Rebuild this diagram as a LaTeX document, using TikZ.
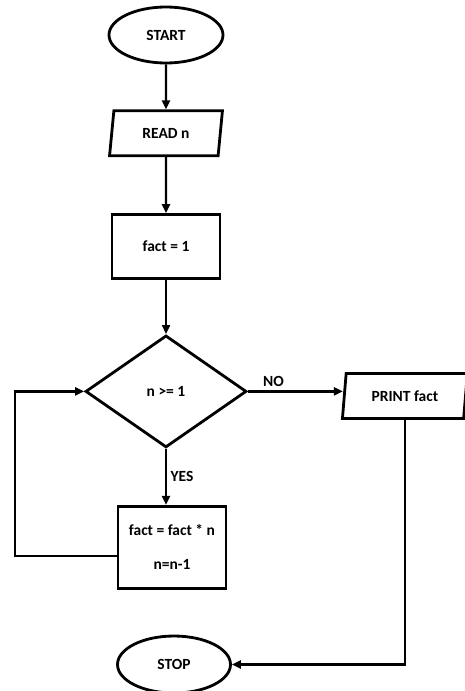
\documentclass[tikz,border=0pt]{standalone}
\usepackage{fontspec}
\setmainfont{Carlito}
\usetikzlibrary{positioning,arrows.meta,shapes.geometric}

\begin{document}
\begin{tikzpicture}[x=1pt,y=-1pt,>={Triangle[length=9pt,width=8pt]},
  every node/.style={font=\bfseries\fontsize{15.5}{18}\selectfont},
  term/.style={draw,ellipse,line width=2.8pt,minimum width=114pt,minimum height=56pt,inner sep=0},
  io/.style={draw,trapezium,trapezium left angle=79,trapezium right angle=101,trapezium stretches=true,line width=2.8pt,minimum height=45pt,inner sep=0},
  proc/.style={draw,rectangle,line width=2.8pt,inner sep=0},
  test/.style={draw,diamond,line width=2.8pt,minimum width=161pt,minimum height=112pt,inner sep=0},
  flow/.style={->,line width=2.4pt}]
\useasboundingbox (0,0) rectangle (465,691);
\node[term] (start) at (166,35) {START};
\node[io,minimum width=113pt] (read) [below=45pt of start] {READ n};
\node[proc,minimum width=108pt,minimum height=64pt] (init) [below=56pt of read] {fact = 1};
\node[test] (dec) [below=54pt of init] {n >= 1};
\node[proc,minimum width=108pt,minimum height=82pt,align=center] (body) [below=56pt of dec,xshift=6pt] {fact = fact * n\\[16pt]n=n-1};
\node[term,minimum width=113pt,minimum height=57pt] (stop) [below=45pt of body,xshift=2pt] {STOP};
\node[io,minimum width=125pt] (prt) [right=95pt of dec,yshift=-4.5pt] {PRINT fact};
\coordinate (loop) at (15,0);
\draw[flow] (start) -- (read);
\draw[flow] (read) -- (init);
\draw[flow] (init) -- (dec);
\draw[flow] (dec.east) -- (dec.east -| prt.west) node[pos=0.27,above]{NO};
\draw[flow] (dec.south) -- (dec.south |- body.north) node[midway,right]{YES};
\draw[flow] ([yshift=-9pt]body.west) -- ([yshift=-9pt]body.west -| loop) |- (dec.west);
\draw[flow] (prt.south) |- (stop.east);
\end{tikzpicture}
\end{document}
